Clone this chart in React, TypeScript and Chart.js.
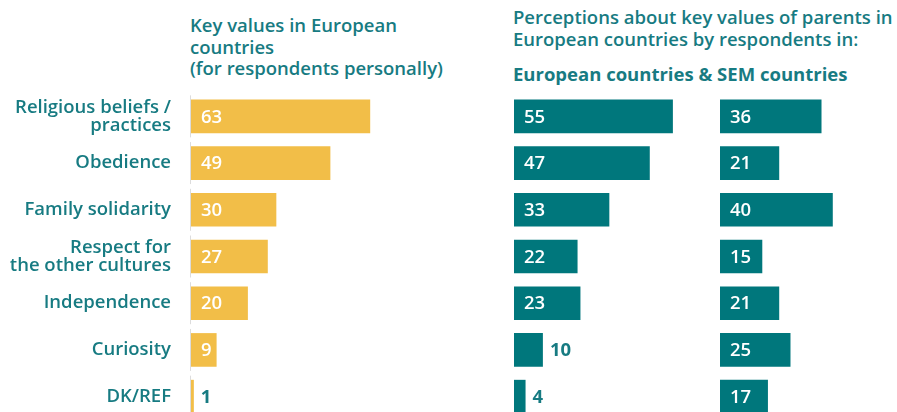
import React, { useEffect, useRef } from "react";
import { Chart, registerables } from "chart.js";

Chart.register(...registerables);

const categories: string[][] = [
  ["Religious beliefs /", "practices"],
  ["Obedience"],
  ["Family solidarity"],
  ["Respect for", "the other cultures"],
  ["Independence"],
  ["Curiosity"],
  ["DK/REF"],
];

const personalValues = [63, 49, 30, 27, 20, 9, 1];
const europeanRespondents = [55, 47, 33, 22, 23, 10, 4];
const semRespondents = [36, 21, 40, 15, 21, 25, 17];

const YELLOW = "#F2BE48";
const TEAL_BAR = "#00777C";
const TEAL_TEXT = "#177B82";
const FONT = "'Open Sans', 'Noto Sans', sans-serif";
const FS = 18.5;

const valueLabelPlugin = {
  id: "valueLabels",
  afterDatasetsDraw(chart: any) {
    const ctx = chart.ctx;
    const meta = chart.getDatasetMeta(0);
    const data = chart.data.datasets[0].data;
    ctx.save();
    ctx.font = `600 ${FS}px ${FONT}`;
    ctx.textBaseline = "middle";
    ctx.textAlign = "left";
    meta.data.forEach((bar: any, i: number) => {
      const p = bar.getProps(["x", "y", "base", "height"], true);
      const txt = String(data[i]);
      const tw = ctx.measureText(txt).width;
      const w = p.x - p.base;
      if (w >= tw + 14) {
        ctx.fillStyle = "#ffffff";
        ctx.fillText(txt, p.base + 10, p.y + 1);
      } else {
        ctx.font = `700 ${FS}px ${FONT}`;
        ctx.fillStyle = TEAL_TEXT;
        ctx.fillText(txt, p.x + 7, p.y + 1);
        ctx.font = `600 ${FS}px ${FONT}`;
      }
    });
    ctx.restore();
  },
  beforeDatasetsDraw(chart: any) {
    const ctx = chart.ctx;
    const meta = chart.getDatasetMeta(0);
    const left = chart.chartArea.left;
    ctx.save();
    ctx.strokeStyle = "#DCDCDC";
    ctx.lineWidth = 1;
    meta.data.forEach((bar: any) => {
      const p = bar.getProps(["y"], true);
      ctx.beginPath();
      ctx.moveTo(left - 0.5, p.y - 21);
      ctx.lineTo(left - 0.5, p.y + 21);
      ctx.stroke();
    });
    ctx.restore();
  },
};

function BarPanel(props: {
  values: number[];
  color: string;
  showLabels: boolean;
  max: number;
  axisWidth: number;
  left: number;
  width: number;
}) {
  const ref = useRef<HTMLCanvasElement | null>(null);
  useEffect(() => {
    if (!ref.current) return;
    const chart = new Chart(ref.current, {
      type: "bar",
      data: {
        labels: categories,
        datasets: [
          {
            data: props.values,
            backgroundColor: props.color,
            barPercentage: 0.72,
            categoryPercentage: 1,
          },
        ],
      },
      options: {
        indexAxis: "y",
        animation: false,
        responsive: false,
        maintainAspectRatio: false,
        layout: { padding: 0 },
        plugins: {
          legend: { display: false },
          tooltip: { enabled: false },
        },
        scales: {
          x: { display: false, min: 0, max: props.max },
          y: {
            display: props.showLabels,
            grid: { display: false, drawTicks: false },
            border: { display: false },
            ticks: {
              padding: 20,
              color: TEAL_TEXT,
              font: { family: FONT, size: FS, weight: 600, lineHeight: 0.97 },
            },
            afterFit: (scale: any) => {
              if (props.showLabels) scale.width = props.axisWidth;
              scale.paddingTop = 0;
              scale.paddingBottom = 0;
            },
          },
        },
      },
      plugins: [valueLabelPlugin],
    } as any);
    return () => chart.destroy();
  }, []);
  return (
    <canvas
      ref={ref}
      width={props.width}
      height={327}
      style={{ position: "absolute", left: props.left, top: 93, width: props.width, height: 327 }}
    />
  );
}

const headerStyle: React.CSSProperties = {
  position: "absolute",
  fontFamily: FONT,
  fontSize: FS,
  fontWeight: 600,
  color: TEAL_TEXT,
  lineHeight: "21.5px",
  whiteSpace: "nowrap",
  margin: 0,
};

export default function App() {
  return (
    <div
      style={{
        position: "fixed",
        left: 0,
        top: 0,
        width: 897,
        height: 412,
        overflow: "hidden",
        background: "#ffffff",
      }}
    >
      <div style={{ ...headerStyle, left: 190, top: 14 }}>
        Key values in European
        <br />
        countries
        <br />
        (for respondents personally)
      </div>
      <div style={{ ...headerStyle, left: 513, top: 6 }}>
        Perceptions about key values of parents in
        <br />
        European countries by respondents in:
      </div>
      <div style={{ ...headerStyle, left: 513, top: 63, fontWeight: 700 }}>
        European countries &amp; SEM countries
      </div>
      <BarPanel values={personalValues} color={YELLOW} showLabels={true} max={90} axisWidth={191} left={0} width={447} />
      <BarPanel values={europeanRespondents} color={TEAL_BAR} showLabels={false} max={63} axisWidth={0} left={514} width={182} />
      <BarPanel values={semRespondents} color={TEAL_BAR} showLabels={false} max={61} axisWidth={0} left={720} width={172} />
    </div>
  );
}
